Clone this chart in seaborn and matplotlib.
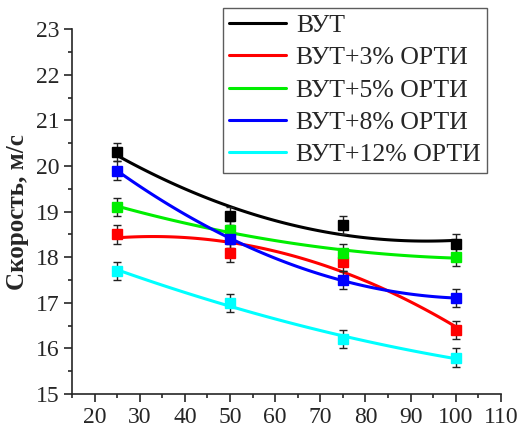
import numpy as np
import pandas as pd
import matplotlib
matplotlib.use("Agg")
import matplotlib.pyplot as plt
from matplotlib.ticker import MultipleLocator
from matplotlib.lines import Line2D
import seaborn as sns

sns.set_style("ticks")
plt.rcParams['font.family'] = ['Liberation Serif', 'DejaVu Serif']

x = [25, 50, 75, 100]
series_names = ["ВУТ", "ВУТ+3% ОРТИ", "ВУТ+5% ОРТИ", "ВУТ+8% ОРТИ", "ВУТ+12% ОРТИ"]
vut = [20.3, 18.9, 18.7, 18.3]
vut3 = [18.5, 18.1, 17.9, 16.4]
vut5 = [19.1, 18.6, 18.1, 18.0]
vut8 = [19.9, 18.4, 17.5, 17.1]
vut12 = [17.7, 17.0, 16.2, 15.8]
err = [0.2, 0.2, 0.2, 0.2]
colors = ["#000000", "#ff0000", "#00ee00", "#0000ff", "#00ffff"]

fig = plt.figure(figsize=(5.29, 4.34), dpi=100)
ax = fig.add_axes([0.136, 0.092, 0.811, 0.841])

handles = []
for name, vals, c in zip(series_names, [vut, vut3, vut5, vut8, vut12], colors):
    df = pd.DataFrame({"x": x, "y": vals})
    sns.regplot(data=df, x="x", y="y", order=2, ci=None, scatter=False, ax=ax,
                line_kws=dict(color=c, lw=2.2))
    ax.errorbar(x, vals, yerr=err, fmt="s", color=c, ms=7, mec=c,
                ecolor="#222222", elinewidth=1, capsize=3, capthick=1, zorder=5)
    handles.append(Line2D([], [], color=c, lw=2.2, label=name))

ax.set_xlim(15, 110)
ax.set_ylim(15, 23)
ax.xaxis.set_major_locator(MultipleLocator(10))
ax.xaxis.set_minor_locator(MultipleLocator(5))
ax.yaxis.set_major_locator(MultipleLocator(1))
ax.yaxis.set_minor_locator(MultipleLocator(0.5))
ax.tick_params(which="major", length=6, width=1.2, labelsize=17, direction="out", pad=3)
ax.tick_params(which="minor", length=3, width=1.2, direction="out")
for s in ["top", "right"]:
    ax.spines[s].set_visible(False)
for s in ["left", "bottom"]:
    ax.spines[s].set_linewidth(1.2)

ax.set_xlabel("")
ax.set_ylabel("Скорость, м/с", fontsize=18, fontweight="bold", labelpad=5)

leg = ax.legend(handles=handles, loc="upper right", bbox_to_anchor=(0.921, 0.982),
                bbox_transform=fig.transFigure, fontsize=18.5,
                frameon=True, fancybox=False, edgecolor="#333333",
                handlelength=2.2, labelspacing=0.36, borderpad=0.25,
                handletextpad=0.4, borderaxespad=0)
leg.get_frame().set_linewidth(1.0)

fig.savefig("out.png", dpi=100)
